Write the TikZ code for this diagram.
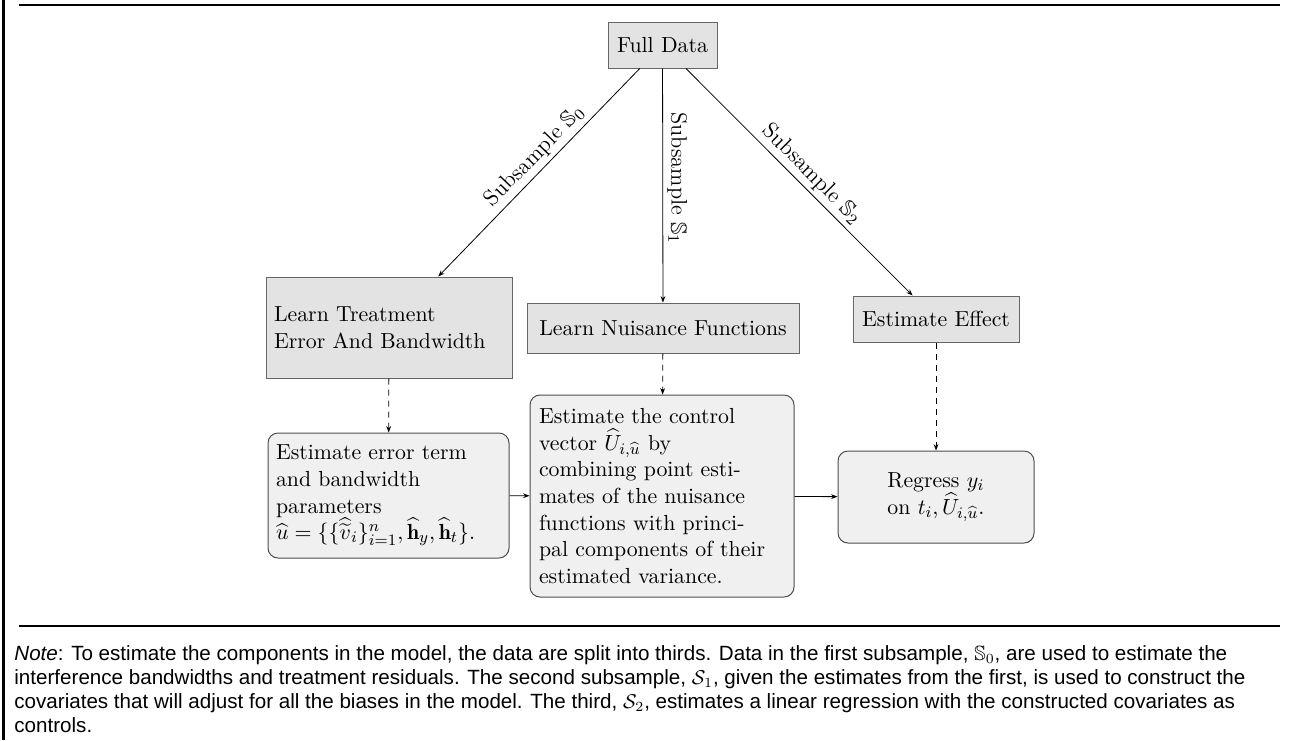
\documentclass[tikz,border=0pt]{standalone}
\usepackage{amsmath,amssymb}
\usepackage{fontspec}
\newfontfamily\capfont{Liberation Sans}
\usetikzlibrary{arrows.meta}
\begin{document}
\begin{tikzpicture}[x=0.5pt,y=-0.5pt,
  font=\fontsize{10.9}{13.3}\selectfont,
  topbox/.style={draw=black!60, fill=black!11, line width=0.5pt, inner ysep=0pt},
  botbox/.style={draw=black!70, fill=black!6, line width=0.5pt, rounded corners=5pt, inner ysep=0pt},
  arr/.style={-{Stealth[length=3.2pt,width=2.4pt]}, line width=0.4pt},
  darr/.style={arr, dashed, dash pattern=on 3pt off 2.5pt},
  lab/.style={font=\fontsize{11.2}{13.3}\selectfont, inner sep=2pt},
  rule/.style={line width=1.1pt}]
\useasboundingbox (0,0) rectangle (1293,740);
% frame rules
\draw[rule] (3.5,0) -- (3.5,740);
\draw[rule] (19,5) -- (1280,5);
\draw[rule] (19,626) -- (1280,626);
% top row
\node[topbox, minimum width=54.5pt, minimum height=23pt, inner xsep=0pt] (full) at (662.5,45) {Full Data};
\node[topbox, minimum height=50.5pt, inner xsep=4pt, text width=115pt, align=left] (learnT) at (389,327.5) {Learn Treatment\\Error And Bandwidth};
\node[topbox, minimum width=136pt, minimum height=25pt, inner xsep=0pt] (learnN) at (663,328) {Learn Nuisance Functions};
\node[topbox, minimum width=83pt, minimum height=23pt, inner xsep=0pt] (estE) at (936,319) {Estimate Effect};
% bottom row
\node[botbox, minimum height=62.5pt, inner xsep=4pt, text width=112.5pt, align=left] (estErr) at (388.5,495.5) {Estimate error term\\and bandwidth\\parameters\\$\widehat{u}=\{\{\widehat{\widetilde{v}}_i\}_{i=1}^n,\widehat{\mathbf{h}}_y,\widehat{\mathbf{h}}_t\}$.};
\node[botbox, minimum height=101pt, inner xsep=4.5pt, text width=123pt, align=left] (ctrl) at (662,496) {Estimate the control\\vector $\widehat{U}_{i,\widehat{u}}$ by\\combining point esti-\\mates of the nuisance\\functions with princi-\\pal components of their\\estimated variance.};
\node[botbox, minimum width=98pt, minimum height=46pt, align=left] (regress) at (936,497) {Regress $y_i$\\on $t_i,\widehat{U}_{i,\widehat{u}}$.};
% connectors
\draw[arr] (full) -- node[lab, sloped, above, pos=0.47] {Subsample $\mathbb{S}_0$} (learnT);
\draw[arr] (full) -- node[lab, sloped, above, pos=0.47] {Subsample $\mathbb{S}_1$} (learnN);
\draw[arr] (full) -- node[lab, sloped, above, pos=0.51] {Subsample $\mathbb{S}_2$} (estE);
\draw[darr] (learnT) -- (estErr);
\draw[darr] (learnN) -- (ctrl);
\draw[darr] (estE) -- (regress);
\draw[arr] (estErr) -- (ctrl);
\draw[arr] (ctrl) -- (regress);
% note
\node[anchor=north west, align=left, inner sep=0pt, font=\capfont\fontsize{10.3}{12}\selectfont] (note) at (14,645)
{\textit{Note}: To estimate the components in the model, the data are split into thirds. Data in the first subsample, $\mathbb{S}_0$, are used to estimate the\\
interference bandwidths and treatment residuals. The second subsample, $\mathcal{S}_1$, given the estimates from the first, is used to construct the\\
covariates that will adjust for all the biases in the model. The third, $\mathcal{S}_2$, estimates a linear regression with the constructed covariates as\\
controls.};
\end{tikzpicture}
\end{document}
